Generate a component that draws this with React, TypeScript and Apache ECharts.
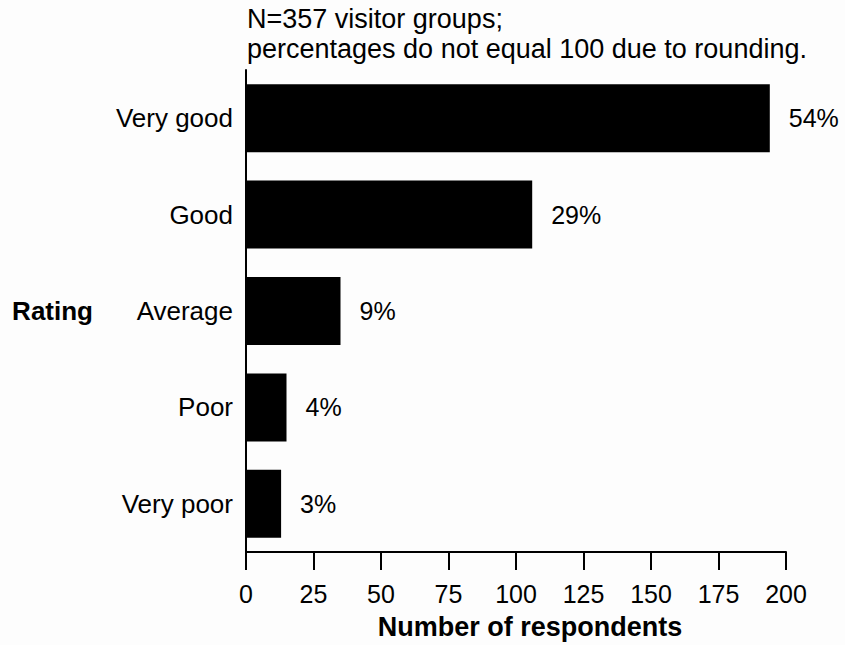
import React, { useEffect, useRef } from "react";
import * as echarts from "echarts";

const categories = ["Very good", "Good", "Average", "Poor", "Very poor"];
const respondents = [194, 106, 35, 15, 13];
const percentLabels = ["54%", "29%", "9%", "4%", "3%"];
const xTicks = { min: 0, max: 200, interval: 25 };
const noteLines = ["N=357 visitor groups;", "percentages do not equal 100 due to rounding."];

const FONT = "'Liberation Sans', Arial, Helvetica, sans-serif";
const INK = "#000000";

export default function App() {
  const ref = useRef<HTMLDivElement>(null);
  useEffect(() => {
    if (!ref.current) return;
    const chart = echarts.init(ref.current, null, { renderer: "svg" });
    chart.setOption({
      animation: false,
      backgroundColor: "#fdfdfd",
      textStyle: { fontFamily: FONT, color: INK },
      title: {
        text: noteLines.join("\n"),
        left: 247,
        top: 4,
        padding: 0,
        textStyle: { fontFamily: FONT, fontSize: 27, fontWeight: "normal", color: INK, lineHeight: 30 },
      },
      grid: { left: 246, right: 59, top: 70, bottom: 88, containLabel: false },
      xAxis: {
        type: "value",
        min: xTicks.min,
        max: xTicks.max,
        interval: xTicks.interval,
        name: "Number of respondents",
        nameLocation: "middle",
        nameGap: 61,
        nameTextStyle: { fontFamily: FONT, fontSize: 27, fontWeight: "bold", color: INK, padding: [0, 0, 0, 28] },
        axisLine: { show: true, lineStyle: { color: INK, width: 2 } },
        axisTick: { show: true, length: 18, lineStyle: { color: INK, width: 2 } },
        axisLabel: { fontFamily: FONT, fontSize: 25, color: INK, margin: 29 },
        splitLine: { show: false },
      },
      yAxis: {
        type: "category",
        inverse: true,
        data: categories,
        name: "Rating",
        nameLocation: "middle",
        nameRotate: 0,
        nameGap: 153,
        nameTextStyle: { fontFamily: FONT, fontSize: 26, fontWeight: "bold", color: INK },
        axisLine: { show: true, lineStyle: { color: INK, width: 2 } },
        axisTick: { show: false },
        axisLabel: { fontFamily: FONT, fontSize: 26, color: INK, margin: 13 },
      },
      series: [
        {
          type: "bar",
          data: respondents,
          barWidth: 68,
          itemStyle: { color: INK },
          label: {
            show: true,
            position: "right",
            distance: 19,
            fontFamily: FONT,
            fontSize: 25,
            color: INK,
            formatter: (p: any) => percentLabels[p.dataIndex],
          },
        },
      ],
    });
    return () => chart.dispose();
  }, []);
  return (
    <div
      ref={ref}
      style={{ position: "fixed", left: 0, top: 0, width: 845, height: 645 }}
    />
  );
}
